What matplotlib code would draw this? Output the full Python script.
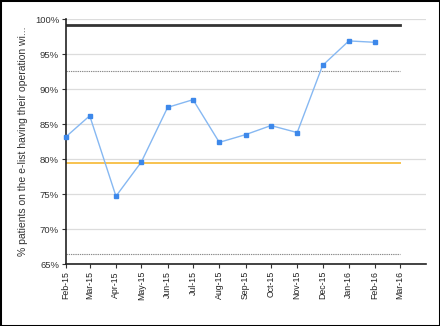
import matplotlib
matplotlib.use("Agg")
import matplotlib.pyplot as plt
import matplotlib.dates as mdates
from matplotlib.patches import Rectangle
import datetime as dt

months = ["2015-02", "2015-03", "2015-04", "2015-05", "2015-06", "2015-07",
          "2015-08", "2015-09", "2015-10", "2015-11", "2015-12", "2016-01", "2016-02"]
pct_values = [83.2, 86.2, 74.7, 79.6, 87.4, 88.5, 82.4, 83.5, 84.8, 83.8, 93.4, 96.9, 96.7]

target = 99.2
upper_limit = 92.6
mean_line = 79.5
lower_limit = 66.4
ref_start = "2015-02"
ref_end = "2016-03"

tick_months = ["2015-02", "2015-03", "2015-04", "2015-05", "2015-06", "2015-07", "2015-08",
               "2015-09", "2015-10", "2015-11", "2015-12", "2016-01", "2016-02", "2016-03"]
y_ticks = [65, 70, 75, 80, 85, 90, 95, 100]


def to_date(s):
    y, m = s.split("-")
    return dt.datetime(int(y), int(m), 1)


plt.rcParams['font.family'] = ['Liberation Sans', 'DejaVu Sans']

fig = plt.figure(figsize=(4.4, 3.26), dpi=100)
ax = fig.add_axes([0.15, 0.19, 0.818, 0.751])

xs = [to_date(m) for m in months]
x0, x1 = to_date(ref_start), to_date(ref_end)

ax.set_ylim(65, 100)
ax.set_xlim(dt.datetime(2015, 2, 1), dt.datetime(2016, 4, 1))

ax.set_yticks(y_ticks)
ax.set_yticklabels([f"{v}%" for v in y_ticks])
ax.grid(axis='y', color='#dcdcdc', lw=0.9)
ax.set_axisbelow(True)

ax.plot([x0, x1], [target, target], color='#333333', lw=2, zorder=2)
ax.plot([x0, x1], [upper_limit, upper_limit], color='#8a8a8a', lw=0.8, ls=(0, (1.2, 0.8)), zorder=2)
ax.plot([x0, x1], [lower_limit, lower_limit], color='#8a8a8a', lw=0.8, ls=(0, (1.2, 0.8)), zorder=2)
ax.plot([x0, x1], [mean_line, mean_line], color='#f7c24f', lw=1.4, zorder=2)

ax.plot(xs, pct_values, color='#86b8f2', lw=1, marker='s', markersize=3.3,
        markerfacecolor='#3d88ea', markeredgecolor='#3d88ea', zorder=3, clip_on=False)

ax.set_xticks([to_date(m) for m in tick_months])
ax.xaxis.set_major_formatter(mdates.DateFormatter('%b-%y'))
plt.setp(ax.get_xticklabels(), rotation=90)

for side in ['top', 'right']:
    ax.spines[side].set_visible(False)
for side in ['left', 'bottom']:
    ax.spines[side].set_color('#222222')
    ax.spines[side].set_linewidth(1.2)

ax.tick_params(axis='both', length=3, width=0.8, pad=2)
ax.tick_params(axis='y', labelsize=6.8, labelcolor='#333333', colors='#333333')
ax.tick_params(axis='x', labelsize=6.3, labelcolor='#222222', colors='#333333')

ax.set_ylabel("% patients on the e-list having their operation wi...",
              fontsize=7.5, color='#333333', labelpad=5)

fig.patches.append(Rectangle((0, 0), 1, 1, transform=fig.transFigure,
                             fill=False, edgecolor='black', lw=2.2, zorder=10))

fig.savefig("out.png", dpi=100)
